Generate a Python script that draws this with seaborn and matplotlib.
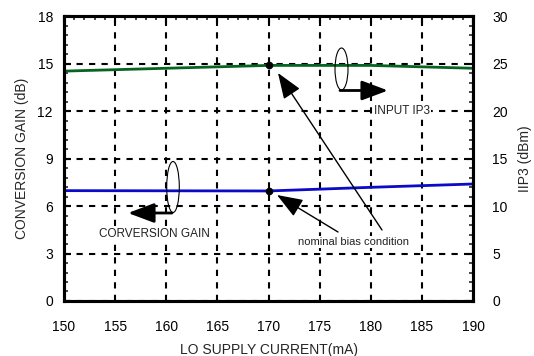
import matplotlib
matplotlib.use("Agg")
import matplotlib.pyplot as plt
import seaborn as sns
import pandas as pd
from matplotlib.ticker import MultipleLocator
from matplotlib.patches import Ellipse, FancyArrowPatch

# data
current_ma = [150, 160, 170, 180, 190]
conv_gain_db = [6.97, 6.96, 6.95, 7.18, 7.39]
iip3_dbm = [24.2, 24.5, 24.8, 24.8, 24.5]
nominal_current = 170

sns.set_theme(style="white")
plt.rcParams['font.family'] = ['Liberation Sans', 'DejaVu Sans']

fig = plt.figure(figsize=(5.34, 3.56), dpi=100)
ax = fig.add_axes([0.1199, 0.1545, 0.7659, 0.8005])
ax2 = ax.twinx()

df = pd.DataFrame({"I": current_ma, "G": conv_gain_db, "P": iip3_dbm})
sns.lineplot(data=df, x="I", y="G", ax=ax, color="#0a0ac8", linewidth=2)
sns.lineplot(data=df, x="I", y="P", ax=ax2, color="#066320", linewidth=2)

i0 = current_ma.index(nominal_current)
ax.plot([nominal_current], [conv_gain_db[i0]], 'o', color='black', ms=4.5, zorder=5)
ax2.plot([nominal_current], [iip3_dbm[i0]], 'o', color='black', ms=4.5, zorder=5)

ax.set_xlim(150, 190)
ax.set_ylim(0, 18)
ax2.set_ylim(0, 30)
ax.xaxis.set_major_locator(MultipleLocator(5))
ax.xaxis.set_minor_locator(MultipleLocator(1))
ax.yaxis.set_major_locator(MultipleLocator(3))
ax.yaxis.set_minor_locator(MultipleLocator(0.6))
ax2.yaxis.set_major_locator(MultipleLocator(5))
ax2.yaxis.set_minor_locator(MultipleLocator(1))

ax.grid(True, which='major', color='black', linestyle=(0, (3, 3)), linewidth=1.5)
ax.set_axisbelow(True)

for a in (ax, ax2):
    for s in a.spines.values():
        s.set_linewidth(2.2)
        s.set_color('black')
ax.tick_params(axis='x', which='major', direction='in', length=5, width=1.5,
               labelsize=10, colors='black', top=True, pad=14)
ax.tick_params(axis='y', which='major', direction='in', length=5, width=1.5,
               labelsize=10, colors='black', pad=8)
ax.tick_params(axis='both', which='minor', direction='in', length=3, width=1.2, top=True)
ax.tick_params(axis='y', which='both', right=False)
ax2.tick_params(axis='y', which='major', direction='in', length=5, width=1.5,
                labelsize=10, colors='black', pad=14)
ax2.tick_params(axis='y', which='minor', direction='in', length=3, width=1.2)

ax.set_xlabel("LO SUPPLY CURRENT(mA)", fontsize=10, labelpad=6)
ax.set_ylabel("CONVERSION GAIN (dB)", fontsize=10, labelpad=6)
ax2.set_ylabel("IIP3 (dBm)", fontsize=10, labelpad=7)

# annotations (in display pixel -> figure fraction)
W, H = 534.0, 356.0
def fp(x, y):
    return (x / W, 1 - y / H)

def arrow(p0, p1, hw=0.45, hl=1.0, lw=1.0):
    a = FancyArrowPatch(fp(*p0), fp(*p1), transform=fig.transFigure,
                        arrowstyle=f'-|>,head_length={hl*10},head_width={hw*10}',
                        mutation_scale=1, color='black', lw=lw, shrinkA=0, shrinkB=0,
                        zorder=6)
    fig.patches.append(a)

arrow((382, 230), (278, 73), hw=0.6, hl=1.6, lw=1.0)
arrow((338, 232), (277, 195), hw=0.6, hl=1.6, lw=1.0)
arrow((340, 90.5), (388, 90.5), hw=0.6, hl=1.6, lw=2.0)
arrow((172, 213), (128, 213), hw=0.6, hl=1.6, lw=2.0)

for (cx, cy, w, h) in [(341.5, 69, 13, 42), (173, 187, 12.6, 51)]:
    e = Ellipse(fp(cx, cy), w / W, h / H, transform=fig.transFigure,
                fill=False, edgecolor='black', lw=0.8)
    fig.patches.append(e)

bb = dict(facecolor='white', edgecolor='none', pad=0.5)
fig.text(*fp(402, 110.5), "INPUT IP3", fontsize=8.5, ha='center', va='center',
         color='#222222', bbox=bb)
fig.text(*fp(154.5, 234), "CORVERSION GAIN", fontsize=8.5, ha='center', va='center',
         color='#222222', bbox=bb)
fig.text(*fp(353, 242), "nominal bias condition", fontsize=8, ha='center', va='center',
         color='#222222', bbox=bb)

fig.savefig("out.png", dpi=100)
